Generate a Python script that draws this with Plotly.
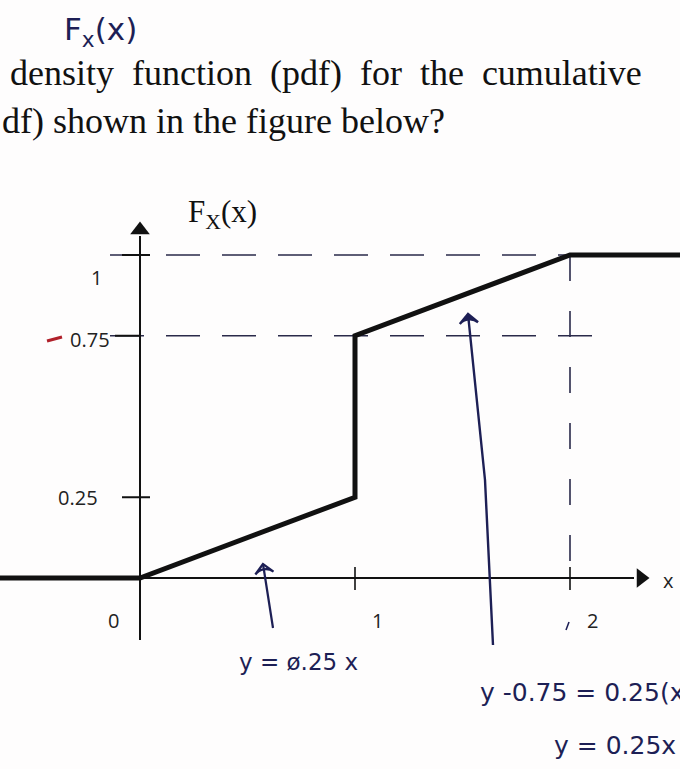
import plotly.graph_objects as go

# Piecewise-linear CDF: 0 for x<0, 0.25x on [0,1], jump to 0.75 at x=1,
# rising to 1 at x=2, then flat.
cdf_x = [-1, 0, 1, 1, 2, 3]
cdf_y = [0, 0, 0.25, 0.75, 1, 1]

y_tick_vals = [0.25, 0.75, 1]
y_tick_text = ["0.25", "0.75", "1"]
x_tick_vals = [1, 2]
x_tick_text = ["1", "2"]

W, H = 680, 769
X0_PX, X_SCALE = 140, 215      # pixel column of x=0, pixels per unit of x
Y0_PX, Y_SCALE = 578, 323      # pixel row of F=0, pixels per unit of F
X_RANGE = [-X0_PX / X_SCALE, (W - X0_PX) / X_SCALE]
Y_RANGE = [-(H - Y0_PX) / Y_SCALE, Y0_PX / Y_SCALE]

INK = "#1d1f55"
BLACK = "#111111"


def px(x):
    return x / W


def py(y):
    return 1 - y / H


def dx(x_pixel):
    return (x_pixel - X0_PX) / X_SCALE


def dy(y_pixel):
    return (Y0_PX - y_pixel) / Y_SCALE


fig = go.Figure()

# dashed guide lines at F=1, F=0.75 and x=2
guide = dict(color="#2a2a4a", width=1.6, dash="34px,22px")
fig.add_trace(go.Scatter(x=[dx(110), 3], y=[1, 1], mode="lines", line=guide,
                         hoverinfo="skip", showlegend=False))
fig.add_trace(go.Scatter(x=[dx(110), dx(610)], y=[0.75, 0.75], mode="lines", line=guide,
                         hoverinfo="skip", showlegend=False))
fig.add_trace(go.Scatter(x=[2, 2], y=[1, 0], mode="lines",
                         line=dict(color="#2a2a4a", width=1.6, dash="26px,30px"),
                         hoverinfo="skip", showlegend=False))

# axis lines
fig.add_trace(go.Scatter(x=[dx(0), dx(634)], y=[0, 0], mode="lines",
                         line=dict(color=BLACK, width=2),
                         hoverinfo="skip", showlegend=False))
fig.add_trace(go.Scatter(x=[0, 0], y=[dy(640), dy(236)], mode="lines",
                         line=dict(color=BLACK, width=2),
                         hoverinfo="skip", showlegend=False))
# axis arrow heads
fig.add_trace(go.Scatter(x=[dx(641)], y=[0], mode="markers",
                         marker=dict(symbol="triangle-right", size=17, color=BLACK,
                                     opacity=1, line=dict(width=0)),
                         hoverinfo="skip", showlegend=False))
fig.add_trace(go.Scatter(x=[0], y=[dy(230)], mode="markers",
                         marker=dict(symbol="triangle-up", size=17, color=BLACK,
                                     opacity=1, line=dict(width=0)),
                         hoverinfo="skip", showlegend=False))

# tick marks
for v in y_tick_vals:
    left = dx(115) if v == 0.75 else dx(122)
    right = 0.0 if v == 0.75 else dx(150)
    fig.add_shape(type="line", x0=left, x1=right, y0=v, y1=v,
                  line=dict(color=BLACK, width=2))
for v in x_tick_vals:
    fig.add_shape(type="line", x0=v, x1=v, y0=dy(567), y1=dy(590),
                  line=dict(color=BLACK, width=1.6))

# the CDF itself
fig.add_trace(go.Scatter(x=cdf_x, y=cdf_y, mode="lines",
                         line=dict(color=BLACK, width=5),
                         hoverinfo="skip", showlegend=False))

# tick labels
tick_font = dict(family="Open Sans, Liberation Sans, sans-serif", size=20, color="#222222")
y_label_shift = {"0.25": (-40, 0), "0.75": (-28, -4), "1": (-36, -22)}
for v, t in zip(y_tick_vals, y_tick_text):
    sx, sy = y_label_shift[t]
    fig.add_annotation(x=0, y=v, xref="x", yref="y", text=t, showarrow=False,
                       xanchor="right", yanchor="middle", xshift=sx, yshift=sy,
                       font=tick_font)
for v, t in zip(x_tick_vals, x_tick_text):
    fig.add_annotation(x=v, y=0, xref="x", yref="y", text=t, showarrow=False,
                       xanchor="center", yanchor="middle", xshift=22, yshift=-42,
                       font=tick_font)
fig.add_annotation(x=0, y=0, xref="x", yref="y", text="0", showarrow=False,
                   xanchor="center", yanchor="middle", xshift=-27, yshift=-42,
                   font=tick_font)
fig.add_annotation(x=dx(668), y=dy(580), xref="x", yref="y", text="x", showarrow=False,
                   xanchor="center", yanchor="middle", font=tick_font)

# axis title
fig.add_annotation(x=px(222), y=py(214), xref="paper", yref="paper",
                   xanchor="center", yanchor="middle",
                   text="F<sub>X</sub>(x)", showarrow=False,
                   font=dict(family="Liberation Serif, serif", size=31, color=BLACK))

# question text
serif = dict(family="Liberation Serif, Times New Roman, serif", size=36, color=BLACK)
fig.add_annotation(x=px(8), y=py(73), xref="paper", yref="paper", xanchor="left",
                   yanchor="middle", showarrow=False, font=serif,
                   text="density  function  (pdf)  for  the  cumulative")
fig.add_annotation(x=px(0), y=py(121), xref="paper", yref="paper", xanchor="left",
                   yanchor="middle", showarrow=False, font=serif,
                   text="df) shown in the figure below?")

# handwritten notes
hand = dict(family="DejaVu Sans, sans-serif", size=23, color=INK)
fig.add_annotation(x=px(100), y=py(32), xref="paper", yref="paper", showarrow=False,
                   xanchor="center", yanchor="middle",
                   text="F<sub>x</sub>(x)", font=dict(family="DejaVu Sans", size=31, color=INK))
fig.add_annotation(x=px(298), y=py(662), xref="paper", yref="paper", showarrow=False,
                   xanchor="center", yanchor="middle", text="y = ø.25 x", font=hand)
fig.add_annotation(x=px(478), y=py(692), xref="paper", yref="paper", showarrow=False,
                   xanchor="left", yanchor="middle",
                   text="y -0.75 = 0.25(x-1)", font=dict(hand, size=25))
fig.add_annotation(x=px(552), y=py(745), xref="paper", yref="paper", showarrow=False,
                   xanchor="left", yanchor="middle",
                   text="y = 0.25x + 0.5", font=dict(hand, size=25))


def arrow_line(xs, ys, color, width, head, head_size):
    """Polyline ending in an arrow head oriented along the last segment."""
    n = len(xs)
    fig.add_trace(go.Scatter(
        x=xs, y=ys, mode="lines+markers",
        line=dict(color=color, width=width),
        marker=dict(symbol=head, size=[0] * (n - 1) + [head_size],
                    angleref="previous", color=color, opacity=1,
                    line=dict(color=color, width=width)),
        hoverinfo="skip", showlegend=False))


# handwritten arrows pointing at the two ramps
arrow_line([dx(273), dx(263)], [dy(628), dy(564)], INK, 2.2, "arrow-wide-open", 13)
arrow_line([dx(493), dx(485), dx(468)], [dy(645), dy(480), dy(314)], INK, 2.4,
           "arrow-wide", 13)

# small pen marks
fig.add_shape(type="line", xref="paper", yref="paper", x0=px(47), y0=py(341),
              x1=px(62), y1=py(337), line=dict(color="#b0202a", width=3))
fig.add_shape(type="line", xref="paper", yref="paper", x0=px(566), y0=py(630),
              x1=px(569), y1=py(622), line=dict(color=INK, width=1.6))

fig.update_layout(
    width=W, height=H,
    margin=dict(l=0, r=0, t=0, b=0),
    paper_bgcolor="#fefdfd", plot_bgcolor="#fefdfd",
    xaxis=dict(range=X_RANGE, visible=False, fixedrange=True),
    yaxis=dict(range=Y_RANGE, visible=False, fixedrange=True),
    showlegend=False,
)

fig.write_html("out.html")
